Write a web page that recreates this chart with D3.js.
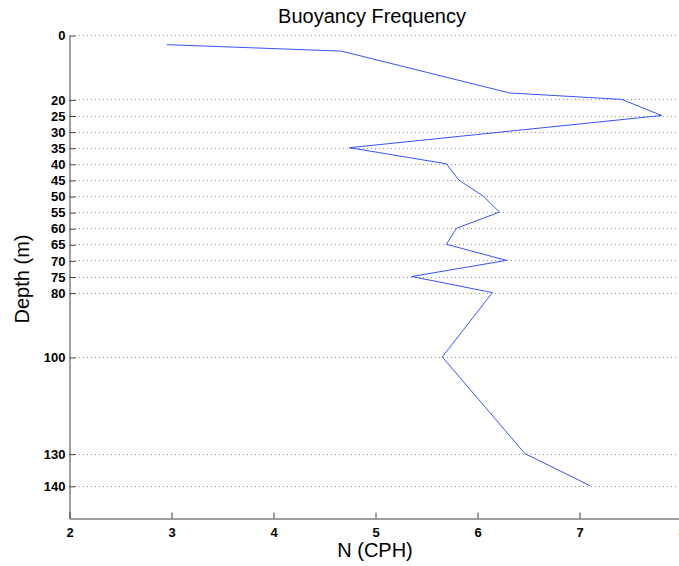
<!DOCTYPE html>
<html>
<head>
<meta charset="utf-8">
<script src="https://d3js.org/d3.v7.min.js"></script>
<style>
    body { margin: 0; background: #fff; }
    svg { display: block; font-family: "Liberation Sans", Arial, sans-serif; }
    .grid line { stroke: #8a8a8a; stroke-dasharray: 1,3; }
    .axis path, .axis line { stroke: #404040; }
    .axis text { fill: #000; font-size: 13px; font-weight: bold; }
</style>
</head>
<body>
<svg width="679" height="566"></svg>
<script>

    // depth (m) and buoyancy frequency (cph)
    var depths = [3, 5, 18, 20, 25, 35, 40, 45, 50, 55, 60, 65, 70, 75, 80, 100, 130, 140];
    var freqs = [2.96, 4.67, 6.32, 7.42, 7.81, 4.75, 5.70, 5.82, 6.06, 6.22, 5.80, 5.70, 6.29, 5.36, 6.15, 5.66, 6.47, 7.11];
    var depthTicks = [0, 20, 25, 30, 35, 40, 45, 50, 55, 60, 65, 70, 75, 80, 100, 130, 140];
    var freqTicks = [2, 3, 4, 5, 6, 7, 8];

    var svg = d3.select("svg");

    var x = d3.scaleLinear().domain([2, 8]).range([69, 681]);
    var y = d3.scaleLinear().domain([0, 150]).range([35, 518]);

    // dotted horizontal grid
    svg.append("g")
        .attr("class", "grid")
        .selectAll("line")
        .data(depthTicks)
        .enter().append("line")
        .attr("x1", x(2) + 6)
        .attr("x2", 679)
        .attr("y1", d => Math.round(y(d)) + 0.5)
        .attr("y2", d => Math.round(y(d)) + 0.5);

    // left axis, ticks pointing inward
    var yAxis = svg.append("g")
        .attr("class", "axis")
        .attr("transform", "translate(" + (x(2) + 0.5) + ",0.5)")
        .call(d3.axisLeft(y).tickValues(depthTicks).tickSizeInner(-6).tickSizeOuter(0));
    yAxis.selectAll("text").attr("x", -4);

    // bottom axis, ticks pointing inward
    var xAxis = svg.append("g")
        .attr("class", "axis")
        .attr("transform", "translate(0.5," + (y(150) + 0.5) + ")")
        .call(d3.axisBottom(x).tickValues(freqTicks).tickFormat(d3.format("d")).tickSizeInner(-6).tickSizeOuter(0));
    xAxis.selectAll("text").attr("y", 9);

    var line = d3.line()
        .x((d, i) => x(freqs[i]))
        .y(d => y(d));

    svg.append("path")
        .datum(depths)
        .attr("fill", "none")
        .attr("stroke", "#1f3fff")
        .attr("stroke-width", 0.9)
        .attr("d", line);

    svg.append("text")
        .attr("x", 372)
        .attr("y", 23)
        .attr("text-anchor", "middle")
        .style("font-size", "20px")
        .text("Buoyancy Frequency");

    svg.append("text")
        .attr("x", 375)
        .attr("y", 557)
        .attr("text-anchor", "middle")
        .style("font-size", "20px")
        .text("N (CPH)");

    svg.append("text")
        .attr("transform", "translate(29,279) rotate(-90)")
        .attr("text-anchor", "middle")
        .style("font-size", "20px")
        .text("Depth (m)");

</script>
</body>
</html>
